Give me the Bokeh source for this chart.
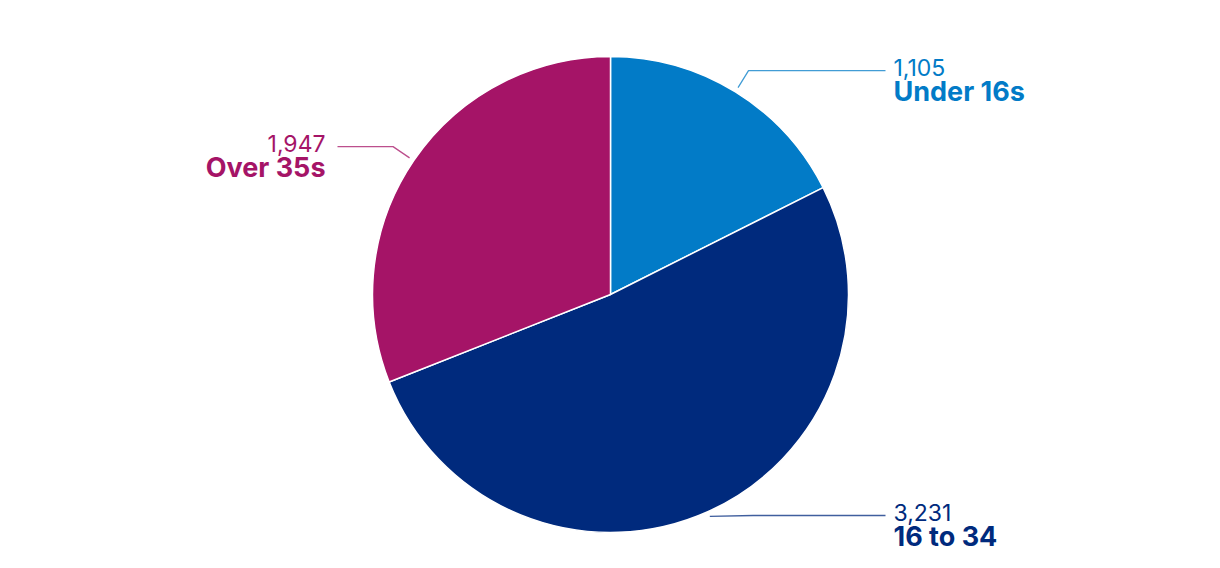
import math
from bokeh.plotting import figure
from bokeh.models import Range1d
from bokeh.core.properties import value
from bokeh.embed import file_html
from bokeh.resources import INLINE

categories = ["Under 16s", "16 to 34", "Over 35s"]
counts = [1105, 3231, 1947]
value_labels = ["1,105", "3,231", "1,947"]
colors = ["#027BC7", "#002A7D", "#A51467"]

W, H = 1204, 552
cx, cy, R = 610, 258, 238

p = figure(width=W, height=H, output_backend="svg", toolbar_location=None,
           x_range=Range1d(0, W), y_range=Range1d(0, H), min_border=0)
p.axis.visible = False
p.grid.visible = False
p.outline_line_color = None
p.background_fill_color = "white"
p.border_fill_color = "white"

total = sum(counts)
start = math.pi / 2
FONT = "Inter"
for cat, cnt, lab, col in zip(categories, counts, value_labels, colors):
    sweep = 2 * math.pi * cnt / total
    end = start - sweep
    p.wedge(x=cx, y=cy, radius=R, start_angle=start, end_angle=end, direction="clock",
            fill_color=col, line_color="white", line_width=1.5)
    mid = (start + end) / 2
    x0, y0 = cx + (R + 5) * math.cos(mid), cy + (R + 5) * math.sin(mid)
    y1 = cy + (R + 25) * math.sin(mid)
    y1 = max(y1, 37)  # keep label inside the bottom edge
    dy = y1 - cy
    dx = math.sqrt(max((R + 25) ** 2 - dy ** 2, 0))
    right = math.cos(mid) >= 0
    x1 = cx + dx if right else cx - dx
    x2 = cx + 275 if right else cx - 273
    p.line([x0, x1, x2], [y0, y1, y1], line_color=col, line_width=1.3, line_alpha=0.75)
    tx = cx + 283 if right else cx - 285
    align = "left" if right else "right"
    p.text(x=[tx], y=[y1 + 3.5], text=[lab], text_font=value(FONT), text_font_size="23px",
           text_font_style="normal", text_color=col, text_align=align, text_baseline="middle")
    p.text(x=[tx], y=[y1 - 21], text=[cat], text_font=value(FONT), text_font_size="27px",
           text_font_style="bold", text_color=col, text_align=align, text_baseline="middle")
    start = end

open("out.html", "w").write(file_html(p, INLINE))
